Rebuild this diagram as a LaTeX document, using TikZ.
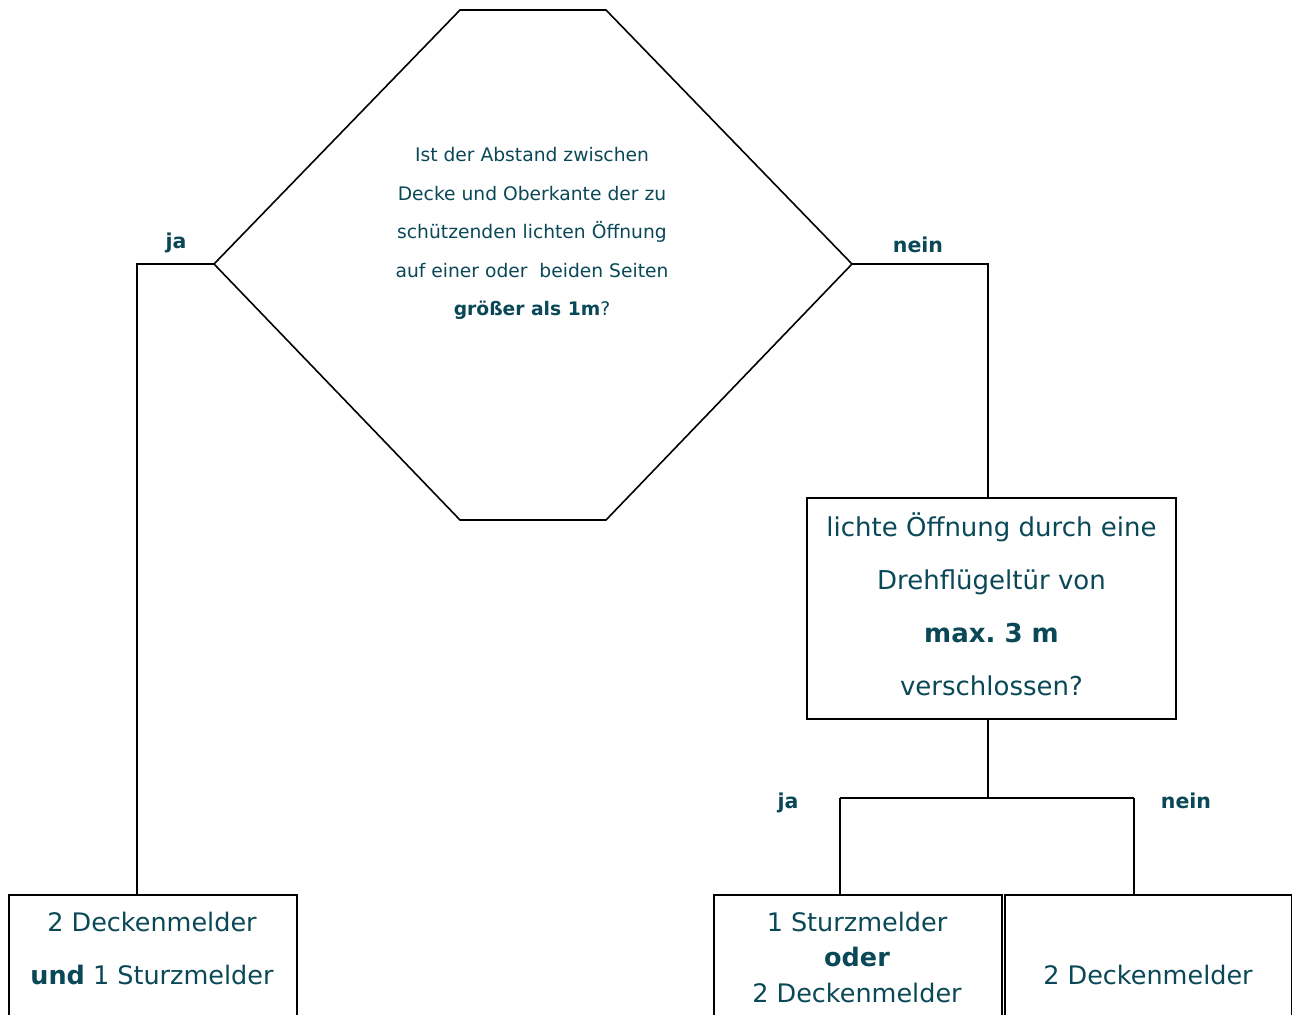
\documentclass[tikz,border=0pt]{standalone}
\usepackage{fontspec}
\setmainfont{DejaVu Sans}
\frenchspacing
\definecolor{tealtxt}{RGB}{10,72,88}
\begin{document}
\begin{tikzpicture}[x=1pt,y=-1pt,
  line width=1.6pt,
  txt/.style={text=tealtxt, align=center, inner sep=0pt},
  hextxt/.style={txt, font=\fontsize{18.7}{38.5}\selectfont},
  bigtxt/.style={txt, font=\fontsize{25.5}{53}\selectfont},
  lbl/.style={text=tealtxt, inner sep=0pt, font=\fontsize{20.5}{24}\selectfont\bfseries},
  box/.style={draw, line width=1.9pt, inner sep=0pt, rectangle}]
\useasboundingbox (0,0) rectangle (1292,1014);
\clip (0,0) rectangle (1292,1014);
% hexagon decision
\coordinate (hTL) at (460,10);
\coordinate (hTR) at (606,10);
\coordinate (hR) at (852,264);
\coordinate (hBR) at (606,520);
\coordinate (hBL) at (460,520);
\coordinate (hL) at (214,264);
\draw (hTL) -- (hTR) -- (hR) -- (hBR) -- (hBL) -- (hL) -- cycle;
\node[hextxt] (q1) at (532,233.5) {Ist der Abstand zwischen\\Decke und Oberkante der zu\\sch\"utzenden lichten \"Offnung\\auf einer oder\ \ beiden Seiten\\\textbf{gr\"o\ss er als 1m}?};
% second decision box
\node[box, minimum width=369, minimum height=221] (b2) at (991.5,608.5) {};
\node[bigtxt, font=\fontsize{26}{53}\selectfont] (t2) at (991.5,604.5) {lichte \"Offnung durch eine\\Drehfl\"ugelt\"ur von\\\textbf{max.\ 3 m}\\verschlossen?};
% result boxes
\node[box, minimum width=288, minimum height=150, anchor=north west] (b1) at (8,894) {};
\node[box, minimum width=288, minimum height=150, anchor=north west] (b3) at (713,894) {};
\node[box, minimum width=287, minimum height=150, anchor=north west] (b4) at (1004,894) {};
\node[bigtxt] (t1) at (152,948) {2 Deckenmelder\\\textbf{und} 1 Sturzmelder};
\node[bigtxt, font=\fontsize{25.5}{35.5}\selectfont] (t3) at (857,957) {1 Sturzmelder\\\textbf{oder}\\2 Deckenmelder};
\node[bigtxt, anchor=base] (t4) at (1148,984) {2 Deckenmelder};
% connectors
\coordinate (jL) at (137,264);
\coordinate (jR) at (988,264);
\coordinate (jc) at (988,798);
\coordinate (jA) at (840,798);
\coordinate (jB) at (1134,798);
\draw (hL) -- (jL) -- (jL |- b1.north);
\draw (hR) -- (jR) -- (jR |- b2.north);
\draw (jc |- b2.south) -- (jc);
\draw (jA) -- (jB);
\draw (jA) -- (jA |- b3.north);
\draw (jB) -- (jB |- b4.north);
% labels
\node[lbl, anchor=base] (l1) at (176,248) {ja};
\node[lbl, anchor=base] (l2) at (918,252) {nein};
\node[lbl, anchor=base] (l3) at (788,808) {ja};
\node[lbl, anchor=base] (l4) at (1186,808) {nein};
\end{tikzpicture}
\end{document}
